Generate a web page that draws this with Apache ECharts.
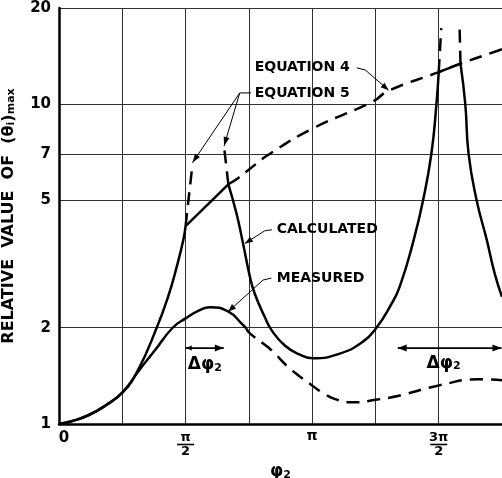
<!DOCTYPE html>
<html><head><meta charset="utf-8">
<script src="https://cdn.jsdelivr.net/npm/echarts@6/dist/echarts.min.js"></script>
<style>html,body{margin:0;padding:0;background:#fff}#c{width:502px;height:478px}</style>
</head><body><div id="c"></div>
<script>
// x in units of pi, y relative value (log axis)
const yTickValues = [1, 2, 5, 7, 10, 20];
const xLabelValues = [0, 0.5, 1, 1.5];
const xLabelNum = ['0', 'π', 'π', '3π'];
const xLabelDen = ['', '2', '', '2'];

const calcRise = [[0,1],[0.05,1.02],[0.116,1.065],[0.182,1.14],[0.253,1.26],[0.313,1.48],[0.386,2.0],[0.431,2.5],[0.465,3.1],[0.491,3.76],[0.5,4.16]];
const calcFlat = [[0.5,4.16],[0.669,5.62]];
const calcMid = [[0.669,5.62],[0.701,4.56],[0.727,3.67],[0.754,2.89],[0.773,2.56],[0.813,2.16],[0.839,1.97],[0.892,1.76],[0.95,1.65],[1.004,1.605],[1.109,1.66],[1.201,1.81],[1.254,2.0],[1.31,2.35],[1.346,2.69],[1.401,3.76],[1.438,5.0],[1.471,7.0],[1.491,10.0],[1.5,12.6]];
const calcPeak = [[1.5,12.6],[1.586,13.4]];
const calcRight = [[1.586,13.4],[1.605,10.0],[1.618,7.0],[1.65,5.0],[1.69,3.76],[1.721,2.96],[1.75,2.5]];
const measSolid = [[0,1],[0.05,1.02],[0.116,1.065],[0.182,1.14],[0.253,1.26],[0.313,1.46],[0.379,1.70],[0.449,2.0],[0.5,2.14],[0.556,2.27],[0.595,2.32],[0.668,2.25],[0.727,2.04],[0.74,1.99]];
const measDash = [[0.74,1.99],[0.754,1.92],[0.813,1.77],[0.85,1.67],[0.9,1.52],[0.95,1.41],[1.0,1.32],[1.05,1.24],[1.1,1.19],[1.17,1.17],[1.25,1.19],[1.35,1.23],[1.5,1.32],[1.66,1.38],[1.75,1.37]];
const eq4 = [[0.669,5.62],[0.707,5.87],[0.757,6.31],[0.833,7.0],[1.004,8.41],[1.24,10.2],[1.3,11.0],[1.5,12.6],[1.586,13.4],[1.733,14.7],[1.75,14.86]];
const eq5a = [[0.5,4.16],[0.527,6.46]];
const eq5b = [[0.669,5.62],[0.652,7.37]];
const eq5c = [[1.5,12.6],[1.51,17.3]];
const eq5d = [[1.586,13.4],[1.582,18.0]];

const FONT = 'DejaVu Sans';
const chart = echarts.init(document.getElementById('c'), null, {renderer:'canvas'});

function solid(data, smooth){ return {type:'line', data, symbol:'none', smooth: smooth?0.5:false, lineStyle:{color:'#000', width:2.5}, silent:true}; }
function dashed(data, smooth){ return {type:'line', data, symbol:'none', smooth: smooth?0.5:false, lineStyle:{color:'#000', width:2.5, type:[13,8]}, silent:true}; }

chart.setOption({
  animation:false,
  backgroundColor:'#fff',
  grid:{left:59, right:0, top:8, bottom:54, containLabel:false, outerBoundsMode:'none'},
  xAxis:{
    type:'value', min:0, max:1.75, interval:0.25,
    axisLine:{show:true, onZero:false, lineStyle:{color:'#000', width:2.5}},
    axisTick:{show:false},
    splitLine:{show:true, lineStyle:{color:'#333', width:1}},
    axisLabel:{
      margin:8, color:'#000', fontFamily:FONT, fontWeight:'bold', fontSize:14,
      showMinLabel:true, showMaxLabel:true,
      formatter:function(v){
        for(let i=0;i<xLabelValues.length;i++){
          if(Math.abs(v-xLabelValues[i])<1e-6){
            if(xLabelDen[i]) return '{n|'+xLabelNum[i]+'}\n{b| }\n{d|'+xLabelDen[i]+'}';
            if(xLabelNum[i]==='0') return '{z|0}';
            return '{p|'+xLabelNum[i]+'}';
          }
        }
        return '';
      },
      rich:{
        z:{fontSize:15, fontWeight:'bold', fontFamily:FONT, padding:[0,0,0,10], lineHeight:13},
        p:{fontSize:14, fontWeight:'bold', fontFamily:FONT, lineHeight:9},
        n:{fontSize:13, fontWeight:'bold', fontFamily:FONT, lineHeight:11},
        b:{width:17, height:1.6, backgroundColor:'#000', lineHeight:3, fontSize:1},
        d:{fontSize:13, fontWeight:'bold', fontFamily:FONT, lineHeight:12}
      }
    },
    name:'φ{s|2}', nameLocation:'middle', nameGap:30,
    nameTextStyle:{color:'#000', fontFamily:FONT, fontWeight:'bold', fontSize:17,
      rich:{s:{fontSize:11, fontWeight:'bold', fontFamily:FONT, verticalAlign:'bottom', lineHeight:6}}}
  },
  yAxis:{
    type:'log', logBase:10, min:1, max:20,
    axisLine:{show:true, lineStyle:{color:'#000', width:2.5}},
    axisTick:{show:false, customValues:yTickValues},
    splitLine:{show:true, lineStyle:{color:'#333', width:1}},
    axisLabel:{customValues:yTickValues, margin:8, color:'#000', fontFamily:FONT, fontWeight:'bold', fontSize:15},
    name:'RELATIVE  VALUE  OF  (θ{s|i}){s|max}', nameLocation:'middle', nameGap:42, nameRotate:90,
    nameTextStyle:{color:'#000', fontFamily:FONT, fontWeight:'bold', fontSize:16, lineHeight:16,
      rich:{s:{fontSize:11, fontWeight:'bold', fontFamily:FONT, verticalAlign:'bottom', lineHeight:6}}}
  },
  series:[
    solid(calcRise,true), solid(calcFlat,false), solid(calcMid,true), solid(calcPeak,false), solid(calcRight,true),
    solid(measSolid,true), dashed(measDash,true), dashed(eq4,true),
    dashed(eq5a,false), dashed(eq5b,false), dashed(eq5c,false), dashed(eq5d,false)
  ]
});

// Annotations anchored in data coordinates
function P(t,v){ return chart.convertToPixel({gridIndex:0},[t,v]); }
function head(tip, from, size, w){
  const dx=tip[0]-from[0], dy=tip[1]-from[1], L=Math.hypot(dx,dy)||1;
  const ux=dx/L, uy=dy/L, nx=-uy, ny=ux;
  return {type:'polygon', shape:{points:[tip,[tip[0]-ux*size+nx*w, tip[1]-uy*size+ny*w],[tip[0]-ux*size-nx*w, tip[1]-uy*size-ny*w]]}, style:{fill:'#000'}, silent:true};
}
function pl(points, lw){ return {type:'polyline', shape:{points}, style:{stroke:'#000', lineWidth:lw||1, fill:null}, silent:true}; }
function txt(p, text, size, rich){ return {type:'text', x:p[0], y:p[1], style:{text, fontFamily:FONT, fontWeight:'bold', fontSize:size, fill:'#000', verticalAlign:'middle', align:'left', rich:rich||{}}, silent:true}; }

const g = [];
// EQUATION 4
g.push(txt(P(0.773,13.08),'EQUATION 4',14));
{ const a=P(1.176,13.0), b=P(1.21,12.8), c=P(1.302,11.07); g.push(pl([a,b,c])); g.push(head(c,b,8,3)); }
// EQUATION 5
g.push(txt(P(0.773,10.85),'EQUATION 5',14));
{ const o=P(0.714,10.85), e=P(0.759,10.85); g.push(pl([o,e])); 
  const t1=P(0.527,6.56), t2=P(0.652,7.41); g.push(pl([o,t1])); g.push(pl([o,t2])); g.push(head(t1,o,9,3)); g.push(head(t2,o,9,3)); }
// CALCULATED
g.push(txt(P(0.86,4.05),'CALCULATED',14));
{ const a=P(0.841,4.05), b=P(0.813,4.02), c=P(0.734,3.67); g.push(pl([a,b,c])); g.push(head(c,b,8,3)); }
// MEASURED
g.push(txt(P(0.86,2.86),'MEASURED',14));
{ const a=P(0.839,2.86), b=P(0.806,2.82), c=P(0.668,2.245); g.push(pl([a,b,c])); g.push(head(c,b,8,3)); }
// Delta phi arrows
const subRich = {s:{fontSize:11, fontWeight:'bold', fontFamily:FONT, verticalAlign:'bottom', lineHeight:6}};
{ const a=P(0.501,1.728), b=P(0.651,1.728); g.push(pl([a,b],1.8)); g.push(head(b,a,9,3.5)); g.push(head(a,b,6,2.5));
  g.push(txt(P(0.509,1.53),'Δφ{s|2}',17,subRich)); }
{ const a=P(1.338,1.728), b=P(1.748,1.728); g.push(pl([a,b],1.8)); g.push(head(b,a,9,3.5)); g.push(head(a,b,9,3.5));
  g.push(txt(P(1.452,1.55),'Δφ{s|2}',17,subRich)); }

chart.setOption({graphic:g});
</script>
</body></html>
